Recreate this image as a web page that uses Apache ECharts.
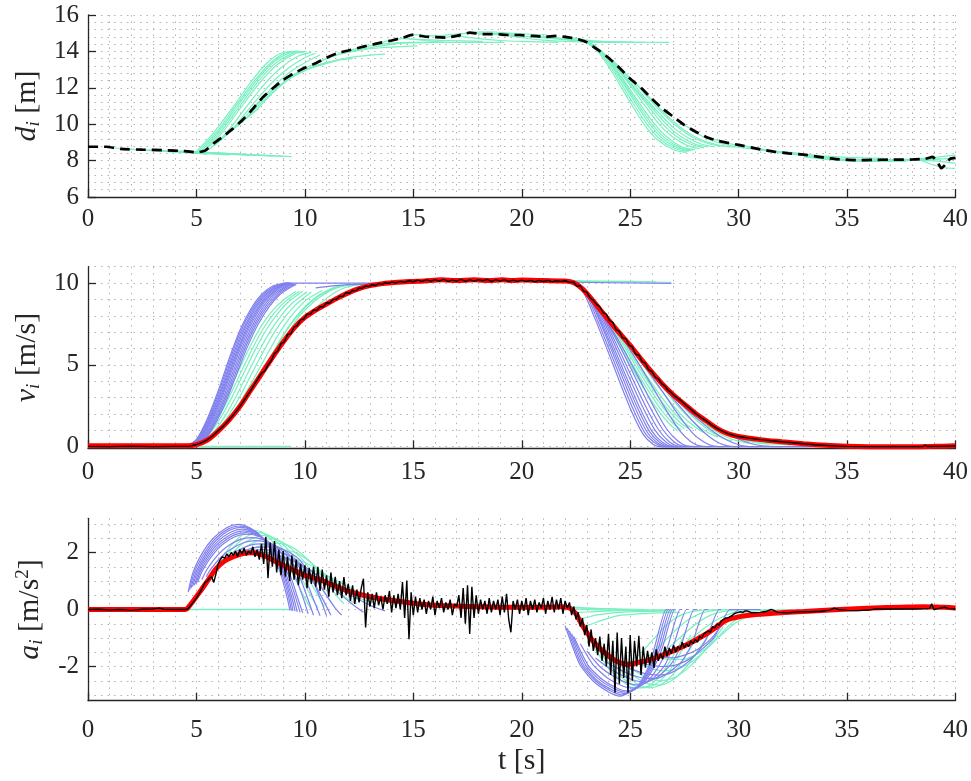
<!DOCTYPE html>
<html><head><meta charset="utf-8">
<script src="https://cdn.jsdelivr.net/npm/echarts@6/dist/echarts.min.js"></script>
<style>html,body{margin:0;padding:0;background:#fff}#c{width:971px;height:781px}</style>
</head><body><div id="c"></div>
<script>
// ---------------- tick labels ----------------
const xTicks = [0,5,10,15,20,25,30,35,40];
const dTicks = [6,8,10,12,14,16];
const vTicks = [0,5,10];
const aTicks = [-2,0,2];

// ---------------- plot 1 : gap d_i ----------------
const dMeas = [[0,8.76],[0.85,8.76],[1.5,8.64],[2.5,8.6],[3.5,8.57],[4.5,8.52],[5.0,8.45],[5.4,8.55],[5.8,8.95],[6.2,9.3],[6.7,9.77],[7.1,10.2],[7.5,10.7],[8.0,11.4],[8.5,11.95],[9.0,12.43],[9.5,12.8],[10.0,13.1],[10.5,13.35],[11.0,13.65],[11.5,13.9],[12.0,14.05],[12.5,14.2],[13.0,14.35],[13.5,14.48],[14.0,14.6],[14.5,14.75],[15.0,14.92],[15.5,14.82],[16.0,14.78],[16.5,14.76],[17.0,14.85],[17.6,15.03],[18.2,14.95],[18.8,14.95],[19.4,14.9],[19.9,14.9],[20.5,14.85],[21.1,14.8],[21.6,14.85],[22.0,14.8],[22.5,14.7],[23.0,14.5],[23.5,14.1],[24.0,13.65],[24.5,13.1],[25.0,12.5],[25.5,12.0],[26.0,11.4],[26.5,10.85],[27.0,10.4],[27.5,9.95],[28.0,9.6],[28.5,9.3],[29.0,9.1],[30.0,8.86],[31.0,8.62],[31.6,8.49],[32.3,8.4],[33.1,8.31],[34.0,8.15],[34.65,8.07],[35.5,8.02],[36.2,8.04],[37.0,8.05],[38.0,8.06],[38.6,8.1],[38.95,8.2],[39.15,7.95],[39.35,7.58],[39.55,7.8],[39.75,8.1],[40,8.15]];
const dFanFlat = [
 [[0.8,8.72],[5.5,8.36]],[[1.8,8.63],[6.5,8.32]],[[2.8,8.59],[7.5,8.28]],[[3.8,8.55],[8.5,8.25]],[[4.3,8.52],[9.0,8.23]],[[4.7,8.5],[9.4,8.22]]];
const dFanRise = [
 [[5.0,8.5],[5.77,9.5],[6.7,10.96],[7.47,12.25],[8.24,13.35],[9.0,13.94],[9.7,14.0]],
 [[5.1,8.5],[5.9,9.53],[6.8,10.98],[7.6,12.28],[8.4,13.35],[9.15,13.93],[9.8,14.0]],
 [[5.2,8.5],[6.0,9.55],[6.9,11.0],[7.7,12.3],[8.5,13.35],[9.3,13.92],[9.9,14.0]],
 [[5.3,8.52],[6.1,9.55],[7.0,11.0],[7.8,12.28],[8.6,13.3],[9.4,13.88],[10.0,14.0]],
 [[5.4,8.55],[6.2,9.55],[7.1,11.0],[7.9,12.25],[8.7,13.25],[9.5,13.85],[10.1,13.98]],
 [[5.6,8.62],[6.4,9.55],[7.3,10.95],[8.1,12.15],[8.9,13.1],[9.7,13.75],[10.3,13.95]],
 [[5.8,8.8],[6.6,9.65],[7.5,10.95],[8.3,12.05],[9.1,12.95],[9.9,13.6],[10.5,13.9]],
 [[6.0,9.05],[6.8,9.85],[7.7,11.0],[8.5,12.0],[9.3,12.85],[10.1,13.45],[10.7,13.8]],
 [[6.3,9.4],[7.1,10.1],[8.0,11.2],[8.8,12.05],[9.6,12.8],[10.4,13.3],[11.0,13.6]],
 [[6.8,9.9],[7.6,10.6],[8.5,11.7],[9.3,12.5],[10.1,13.0],[10.9,13.3],[11.5,13.5]]];
const dFanCruise = [
 [[7.5,10.7],[8.5,11.85],[9.5,12.65],[10.5,13.2],[11.5,13.5],[12.2,13.6]],
 [[9.0,12.43],[10,13.0],[11,13.4],[12,13.65],[13.0,13.8],[13.7,13.85]],
 [[10.5,13.35],[11.5,13.8],[12.5,14.05],[13.5,14.2],[15.2,14.3]],
 [[11.5,13.9],[12.5,14.1],[13.5,14.3],[14.5,14.45],[16.2,14.5]],
 [[12,14.05],[13,14.3],[14,14.45],[15,14.5],[16.7,14.5]],
 [[13.5,14.48],[14.5,14.7],[15.5,14.65],[16.5,14.6],[18.2,14.55]],
 [[14.5,14.75],[15.5,14.6],[16.5,14.5],[17.5,14.5],[19.2,14.5]],
 [[15,14.92],[16,14.85],[17,14.95],[18,15.0],[19.7,14.95]],
 [[16.5,14.76],[17.5,15.02],[18.5,15.08],[19.5,15.0],[21.2,14.9]],
 [[17,14.85],[18,14.7],[19,14.6],[20,14.55],[21.7,14.5]],
 [[18,14.95],[19,14.92],[20,14.85],[21,14.75],[22.7,14.6]],
 [[19,14.92],[20,14.75],[21,14.62],[22,14.55],[23.7,14.5]],
 [[19.5,14.9],[20.5,14.8],[21.5,14.75],[22.5,14.6],[24.2,14.5]],
 [[20.5,14.85],[21.5,14.7],[22.5,14.6],[25.2,14.5]],
 [[21,14.8],[22,14.7],[23,14.55],[24,14.5],[25.7,14.5]],
 [[22.1,14.78],[23,14.62],[24,14.53],[26.8,14.5]]];
const dFanBrake = [
 [[22.9,14.55],[23.5,14.0],[24.2,12.8],[25.0,11.2],[25.7,9.9],[26.3,9.1],[27.0,8.6],[27.6,8.45]],
 [[23.0,14.52],[23.6,13.95],[24.3,12.78],[25.1,11.22],[25.8,9.95],[26.4,9.15],[27.1,8.65],[27.7,8.5]],
 [[23.1,14.5],[23.7,13.9],[24.4,12.75],[25.2,11.25],[25.9,10.0],[26.5,9.2],[27.2,8.7],[27.8,8.55]],
 [[23.2,14.45],[23.8,13.82],[24.5,12.68],[25.3,11.22],[26.0,10.02],[26.6,9.25],[27.3,8.72],[27.9,8.57]],
 [[23.3,14.4],[23.9,13.75],[24.6,12.6],[25.4,11.2],[26.1,10.05],[26.7,9.3],[27.4,8.75],[28.0,8.6]],
 [[23.5,14.15],[24.1,13.5],[24.8,12.45],[25.6,11.15],[26.3,10.05],[26.9,9.35],[27.6,8.85],[28.2,8.65]],
 [[23.7,13.95],[24.3,13.25],[25.0,12.25],[25.8,11.05],[26.5,10.0],[27.1,9.35],[27.8,8.9],[28.4,8.7]],
 [[23.9,13.8],[24.5,13.05],[25.2,12.0],[26.0,10.9],[26.7,9.95],[27.3,9.35],[28.0,8.9],[28.6,8.75]],
 [[24.2,13.5],[24.8,12.75],[25.5,11.7],[26.3,10.65],[27.0,9.8],[27.6,9.3],[28.3,8.9],[28.9,8.75]],
 [[24.6,13.0],[25.2,12.3],[25.9,11.35],[26.7,10.35],[27.4,9.65],[28.0,9.2],[28.7,8.9],[29.3,8.8]],
 [[25.2,12.3],[25.8,11.6],[26.5,10.7],[27.3,9.85],[28.0,9.3],[28.6,9.0],[29.3,8.8],[29.9,8.75]]];
const dFanTail = [
 [[27.3,10.15],[28.3,9.35],[29.3,8.9],[30.5,8.65],[32.0,8.45]],
 [[28.5,9.3],[29.5,8.95],[30.5,8.75],[31.5,8.55],[33.2,8.35]],
 [[30,8.86],[31,8.6],[32,8.42],[33,8.28],[34.7,8.1]],
 [[31.6,8.49],[32.6,8.35],[33.6,8.2],[34.6,8.08],[36.3,8.0]],
 [[32,8.5],[34,8.25],[36.7,8.12]],
 [[33,8.2],[35,7.98],[37.7,7.95]],
 [[33.1,8.31],[34.1,8.15],[35.1,8.05],[36.1,8.02],[37.8,8.0]],
 [[34.6,8.07],[35.6,8.02],[36.6,8.03],[37.6,8.05],[39.3,8.08]],
 [[35.3,8.03],[38,8.08],[40,8.3]],
 [[36,8.02],[38.5,8.05],[40,8.12]],
 [[37,8.05],[39,7.98],[40,7.85]],
 [[38.3,8.06],[39.4,7.62],[40,7.58]]];

// ---------------- plot 2 : speed v_i ----------------
const vRef = [[0,0.05],[4.6,0.05],[5.0,0.12],[5.5,0.4],[6.0,0.95],[6.5,1.62],[7.0,2.45],[7.5,3.45],[8.0,4.45],[8.5,5.45],[9.0,6.4],[9.5,7.25],[10.0,7.9],[10.5,8.35],[11.0,8.72],[11.5,9.08],[12.0,9.4],[12.5,9.66],[13.0,9.84],[13.5,9.95],[14.0,10.02],[14.5,10.07],[15.0,10.1],[15.5,10.13],[16.3,10.2],[17.0,10.15],[17.8,10.2],[18.5,10.15],[19.1,10.2],[19.6,10.15],[20.0,10.18],[21.0,10.15],[22.0,10.12],[22.4,10.02],[22.8,9.65],[23.2,9.05],[23.6,8.4],[24.0,7.75],[24.5,6.95],[25.0,6.2],[25.5,5.35],[26.0,4.55],[26.5,3.8],[27.0,3.15],[27.5,2.6],[28.0,2.05],[28.5,1.58],[29.0,1.12],[29.5,0.8],[30.0,0.62],[31.0,0.43],[32.0,0.3],[33.0,0.18],[34.0,0.08],[35.0,0.02],[36.0,0.0],[38.0,0.0],[39.0,0.02],[40.0,0.05]];
const vMeas = [[0,0.02],[1,0.0],[2,0.03],[3,0.0],[4,0.02],[4.6,0.02],[4.8,0.06],[5.0,0.13],[5.25,0.25],[5.5,0.42],[5.75,0.65],[6.0,0.97],[6.25,1.27],[6.5,1.63],[6.75,2.02],[7.0,2.45],[7.25,2.93],[7.5,3.43],[7.75,3.98],[8.0,4.5],[8.15,4.62],[8.3,5.0],[8.45,5.25],[8.6,5.7],[8.75,5.85],[8.9,6.3],[9.05,6.4],[9.2,6.85],[9.35,6.9],[9.5,7.3],[9.65,7.4],[9.8,7.75],[9.95,7.8],[10.1,8.1],[10.25,8.1],[10.4,8.35],[10.55,8.32],[10.7,8.55],[10.85,8.55],[11.0,8.8],[11.15,8.78],[11.3,9.0],[11.45,9.0],[11.6,9.2],[11.75,9.18],[11.9,9.42],[12.05,9.38],[12.2,9.55],[12.35,9.52],[12.5,9.7],[12.65,9.68],[12.8,9.82],[12.95,9.78],[13.1,9.9],[13.25,9.85],[13.4,9.97],[13.55,9.92],[13.7,10.02],[13.85,9.98],[14.0,10.06],[14.2,10.02],[14.4,10.1],[14.6,10.05],[14.8,10.14],[15.0,10.08],[15.2,10.18],[15.4,10.1],[15.6,10.2],[15.8,10.12],[16.0,10.2],[16.2,10.12],[16.4,10.22],[16.6,10.1],[16.8,10.18],[17.0,10.12],[17.2,10.22],[17.4,10.1],[17.6,10.2],[17.8,10.12],[18.0,10.2],[18.2,10.14],[18.4,10.22],[18.6,10.1],[18.8,10.2],[19.0,10.12],[19.2,10.2],[19.4,10.1],[19.6,10.18],[19.8,10.1],[20.0,10.18],[20.2,10.1],[20.4,10.16],[20.6,10.08],[20.8,10.16],[21.0,10.1],[21.2,10.16],[21.4,10.08],[21.6,10.14],[21.8,10.1],[22.0,10.14],[22.2,10.05],[22.4,10.05],[22.55,9.8],[22.7,9.85],[22.85,9.5],[23.0,9.45],[23.15,9.1],[23.3,8.95],[23.45,8.7],[23.6,8.55],[23.75,8.2],[23.9,8.1],[24.05,7.7],[24.2,7.6],[24.35,7.15],[24.5,7.05],[24.65,6.65],[24.8,6.6],[24.95,6.2],[25.1,6.1],[25.25,5.65],[25.4,5.6],[25.55,5.2],[25.7,5.1],[25.85,4.7],[26.0,4.6],[26.15,4.25],[26.3,4.15],[26.45,3.85],[26.6,3.7],[26.75,3.45],[26.9,3.3],[27.05,3.1],[27.2,2.95],[27.4,2.75],[27.6,2.5],[27.8,2.28],[28.0,2.05],[28.25,1.8],[28.5,1.58],[28.75,1.33],[29.0,1.12],[29.25,0.95],[29.5,0.8],[29.75,0.7],[30.0,0.62],[30.5,0.52],[31.0,0.43],[31.5,0.36],[32.0,0.3],[32.5,0.24],[33.0,0.18],[33.5,0.12],[34.0,0.08],[34.5,0.04],[35.0,0.02],[36.0,0.0],[37.0,0.0],[38.0,0.0],[38.5,0.01],[38.6,0.1],[38.7,0.01],[39.0,0.02],[40.0,0.04]];
const vGreenFlat = [[[0.5,0.01],[9.3,0.01]]];
const vBlueRise = [
 [[4.55,0.05],[5.0,0.45],[5.5,1.7],[6.0,3.4],[6.5,5.35],[7.0,7.1],[7.5,8.4],[8.0,9.3],[8.5,9.8],[9.0,9.98],[9.25,10.0]],
 [[4.57,0.05],[5.02,0.44],[5.52,1.65],[6.02,3.3],[6.52,5.22],[7.02,6.98],[7.52,8.3],[8.02,9.22],[8.52,9.75],[9.02,9.96],[9.27,10.0]],
 [[4.6,0.05],[5.05,0.42],[5.55,1.6],[6.05,3.2],[6.55,5.1],[7.05,6.85],[7.55,8.2],[8.05,9.15],[8.55,9.7],[9.05,9.95],[9.3,10.0]],
 [[4.62,0.05],[5.07,0.41],[5.57,1.55],[6.07,3.12],[6.57,5.0],[7.07,6.72],[7.57,8.1],[8.07,9.08],[8.57,9.65],[9.07,9.93],[9.32,10.0]],
 [[4.65,0.05],[5.1,0.4],[5.6,1.5],[6.1,3.05],[6.6,4.9],[7.1,6.6],[7.6,8.0],[8.1,9.0],[8.6,9.6],[9.1,9.92],[9.35,9.99]],
 [[4.67,0.05],[5.12,0.39],[5.62,1.46],[6.12,2.97],[6.62,4.8],[7.12,6.5],[7.62,7.9],[8.12,8.92],[8.62,9.55],[9.12,9.9],[9.37,9.98]],
 [[4.7,0.05],[5.15,0.38],[5.65,1.42],[6.15,2.9],[6.65,4.7],[7.15,6.4],[7.65,7.8],[8.15,8.85],[8.65,9.5],[9.15,9.88],[9.4,9.98]],
 [[4.75,0.05],[5.2,0.38],[5.7,1.4],[6.2,2.85],[6.7,4.62],[7.2,6.32],[7.7,7.72],[8.2,8.78],[8.7,9.45],[9.2,9.85],[9.45,9.97]],
 [[4.8,0.06],[5.25,0.38],[5.75,1.38],[6.25,2.8],[6.75,4.55],[7.25,6.25],[7.75,7.65],[8.25,8.7],[8.75,9.4],[9.25,9.82],[9.5,9.96]],
 [[4.85,0.07],[5.3,0.39],[5.8,1.36],[6.3,2.76],[6.8,4.48],[7.3,6.18],[7.8,7.58],[8.3,8.62],[8.8,9.35],[9.3,9.78],[9.55,9.94]],
 [[4.9,0.08],[5.35,0.4],[5.85,1.35],[6.35,2.72],[6.85,4.42],[7.35,6.1],[7.85,7.5],[8.35,8.55],[8.85,9.3],[9.35,9.75],[9.6,9.92]]];
const vBlueCruise = [
 [[9.0,10.0],[14.3,9.99]],
 [[10.5,9.7],[12,9.9],[15.2,10.0]],
 [[22.2,10.05],[26.9,9.98]]];
const vGreenRise = [
 [[4.9,0.1],[5.5,0.9],[6.0,2.0],[6.5,3.35],[7.0,4.8],[7.5,6.2],[8.0,7.4],[8.5,8.3],[9.0,8.95],[9.6,9.5]],
 [[5.05,0.17],[5.6,0.92],[6.1,1.98],[6.6,3.28],[7.1,4.68],[7.6,6.05],[8.1,7.25],[8.6,8.18],[9.1,8.88],[9.75,9.5]],
 [[5.2,0.25],[5.7,0.95],[6.2,1.95],[6.7,3.2],[7.2,4.55],[7.7,5.9],[8.2,7.1],[8.7,8.05],[9.2,8.8],[9.9,9.5]],
 [[5.4,0.37],[5.9,1.07],[6.4,2.05],[6.9,3.25],[7.4,4.58],[7.9,5.88],[8.4,7.05],[8.9,8.0],[9.4,8.75],[10.1,9.47]],
 [[5.6,0.5],[6.1,1.2],[6.6,2.15],[7.1,3.3],[7.6,4.6],[8.1,5.85],[8.6,7.0],[9.1,7.95],[9.6,8.7],[10.3,9.45]],
 [[6.1,1.1],[6.6,1.9],[7.1,2.9],[7.6,4.05],[8.1,5.25],[8.6,6.45],[9.1,7.5],[9.6,8.35],[10.1,9.0],[10.8,9.55]],
 [[6.7,1.9],[7.2,2.8],[7.7,3.85],[8.2,5.0],[8.7,6.15],[9.2,7.2],[9.7,8.1],[10.2,8.8],[10.7,9.3],[11.4,9.7]],
 [[7.4,3.2],[7.9,4.25],[8.4,5.4],[8.9,6.6],[9.4,7.6],[9.9,8.4],[10.4,9.0],[10.9,9.45],[11.4,9.75],[12.1,9.9]],
 [[8.2,4.85],[8.7,6.1],[9.2,7.2],[9.7,8.05],[10.2,8.75],[10.7,9.25],[11.2,9.6],[11.7,9.82],[12.9,9.95]],
 [[9.2,6.85],[9.7,7.9],[10.2,8.6],[10.7,9.15],[11.2,9.55],[11.7,9.8],[12.2,9.92],[13.9,10.0]],
 [[10.3,8.15],[10.8,8.85],[11.3,9.35],[11.8,9.7],[12.5,9.9],[13.2,10.0],[15.0,10.05]],
 [[11.5,9.05],[12.0,9.5],[12.5,9.8],[13.0,9.95],[14.0,10.05],[16.2,10.1]]];
const vGreenCruise = [
 [[12.5,9.66],[13.5,9.95],[14.5,10.05],[17.2,10.12]],
 [[14,10.02],[15,10.12],[16,10.18],[18.7,10.2]],
 [[16,10.15],[17,10.2],[20.7,10.2]],
 [[18,10.15],[19,10.18],[22.7,10.15]],
 [[20.5,10.12],[25.2,10.1]],
 [[21.5,10.12],[26.2,10.08]],
 [[22.2,10.12],[26.9,10.05]]];
const vBlueBrake = [
 [[22.4,10.05],[22.8,9.55],[23.4,7.75],[24.2,5.05],[25.0,2.35],[25.6,0.75],[26.05,0.15],[26.4,0.0],[27.1,0.0]],
 [[22.5,10.02],[22.9,9.5],[23.5,7.7],[24.3,5.05],[25.1,2.4],[25.7,0.8],[26.2,0.18],[26.55,0.0],[27.2,0.0]],
 [[22.6,10.0],[23.0,9.4],[23.6,7.65],[24.4,5.05],[25.2,2.45],[25.8,0.85],[26.3,0.2],[26.7,0.0],[27.3,0.0]],
 [[22.7,9.85],[23.1,9.2],[23.7,7.5],[24.5,5.0],[25.3,2.48],[25.9,0.9],[26.4,0.22],[26.8,0.01],[27.4,0.0]],
 [[22.8,9.7],[23.2,9.0],[23.8,7.4],[24.6,4.95],[25.4,2.5],[26.0,0.95],[26.5,0.25],[26.9,0.02],[27.5,0.0]],
 [[22.95,9.45],[23.35,8.75],[23.95,7.2],[24.75,4.85],[25.55,2.5],[26.15,1.0],[26.65,0.28],[27.05,0.02],[27.65,0.0]],
 [[23.1,9.2],[23.5,8.5],[24.1,7.0],[24.9,4.75],[25.7,2.5],[26.3,1.05],[26.8,0.3],[27.2,0.03],[27.8,0.0]],
 [[23.3,8.85],[23.7,8.1],[24.3,6.7],[25.1,4.6],[25.9,2.45],[26.5,1.05],[27.0,0.32],[27.4,0.04],[28.0,0.0]],
 [[23.5,8.5],[23.9,7.7],[24.5,6.4],[25.3,4.45],[26.1,2.4],[26.7,1.05],[27.2,0.35],[27.6,0.05],[28.2,0.0]],
 [[24.0,7.75],[24.5,6.9],[25.1,5.7],[25.9,3.95],[26.7,2.15],[27.3,0.95],[27.8,0.3],[28.2,0.05],[28.7,0.0]],
 [[24.6,6.8],[25.1,5.95],[25.7,4.85],[26.5,3.35],[27.3,1.8],[27.9,0.8],[28.4,0.28],[28.8,0.05],[29.3,0.0]],
 [[25.3,5.65],[25.8,4.85],[26.4,3.85],[27.2,2.6],[28.0,1.4],[28.6,0.65],[29.1,0.22],[29.5,0.05],[30.0,0.0]],
 [[26.2,4.25],[26.7,3.45],[27.3,2.65],[28.1,1.7],[28.9,0.85],[29.5,0.38],[30.0,0.12],[30.4,0.02],[30.9,0.0]],
 [[27.3,2.8],[27.8,2.25],[28.4,1.65],[29.2,1.0],[30.0,0.45],[30.6,0.18],[31.1,0.05],[32.0,0.0]],
 [[26.4,0.0],[35.0,0.0]]];
const vGreenBrake = [
 [[22.5,10.0],[23.0,9.5],[23.6,8.3],[24.3,6.7],[25.0,5.0],[25.7,3.4],[26.3,2.2],[26.8,1.4],[27.2,0.95]],
 [[22.65,9.85],[23.15,9.28],[23.75,8.1],[24.45,6.55],[25.15,4.92],[25.85,3.38],[26.45,2.22],[26.95,1.45],[27.35,1.02]],
 [[22.8,9.7],[23.3,9.05],[23.9,7.9],[24.6,6.4],[25.3,4.85],[26.0,3.35],[26.6,2.25],[27.1,1.5],[27.5,1.1]],
 [[23.0,9.38],[23.5,8.7],[24.1,7.55],[24.8,6.12],[25.5,4.65],[26.2,3.22],[26.8,2.18],[27.3,1.48],[27.7,1.1]],
 [[23.2,9.05],[23.7,8.3],[24.3,7.2],[25.0,5.85],[25.7,4.45],[26.4,3.1],[27.0,2.1],[27.5,1.45],[27.9,1.1]],
 [[23.7,8.22],[24.2,7.5],[24.8,6.45],[25.5,5.15],[26.2,3.85],[26.9,2.65],[27.5,1.75],[28.0,1.2],[28.4,0.85]],
 [[24.3,7.25],[24.8,6.5],[25.4,5.5],[26.1,4.3],[26.8,3.1],[27.5,2.05],[28.1,1.3],[28.6,0.85],[29.0,0.6]],
 [[25.0,6.2],[25.5,5.45],[26.1,4.5],[26.8,3.4],[27.5,2.35],[28.2,1.45],[28.8,0.85],[29.3,0.5],[29.7,0.35]],
 [[25.8,4.88],[26.3,4.25],[26.9,3.4],[27.6,2.45],[28.3,1.55],[29.0,0.9],[29.6,0.5],[30.1,0.3],[30.5,0.2]],
 [[26.7,3.55],[27.2,2.95],[27.8,2.25],[28.5,1.5],[29.2,0.9],[29.9,0.5],[30.5,0.3],[31.0,0.2],[31.4,0.15]],
 [[27.7,2.38],[28.2,1.8],[28.8,1.3],[29.5,0.8],[30.2,0.45],[30.9,0.27],[31.5,0.17],[32.4,0.1]],
 [[28.8,1.3],[29.3,0.95],[29.9,0.65],[30.6,0.42],[31.3,0.27],[32.0,0.18],[33.5,0.1]],
 [[30.0,0.62],[31,0.4],[32,0.25],[33,0.15],[34.7,0.05]]];

// ---------------- plot 3 : acceleration a_i ----------------
const aRef = [[0,0],[4.5,0],[4.65,0.1],[5.15,0.61],[5.6,1.1],[5.92,1.44],[6.3,1.7],[6.7,1.85],[7.1,1.95],[7.47,1.99],[7.9,1.95],[8.24,1.85],[8.6,1.7],[9.0,1.55],[9.4,1.4],[9.77,1.26],[10.2,1.15],[10.54,1.08],[11.15,0.9],[11.8,0.7],[12.69,0.5],[13.5,0.38],[14.22,0.3],[15,0.22],[16,0.15],[17,0.12],[18,0.1],[19,0.08],[20,0.08],[21,0.08],[21.8,0.1],[22.2,0.05],[22.5,-0.15],[22.67,-0.39],[23.0,-0.8],[23.4,-1.21],[23.8,-1.5],[24.2,-1.74],[24.6,-1.88],[24.97,-1.92],[25.4,-1.85],[25.74,-1.8],[26.3,-1.65],[26.98,-1.45],[27.7,-1.2],[28.5,-0.86],[29.0,-0.6],[29.4,-0.39],[30.06,-0.25],[30.8,-0.18],[31.6,-0.13],[33,-0.07],[34.65,0],[36.2,0.05],[37.5,0.08],[38.5,0.1],[39.5,0.08],[40,0.05]];
const aMeas = [[0,0.0],[0.5,0.01],[1.0,-0.02],[1.5,0.0],[2.0,-0.03],[2.5,0.01],[3.0,0.02],[3.3,0.05],[3.5,0.01],[4.0,0.0],[4.5,0.0],[4.6,0.02],[4.8,0.2],[5.0,0.4],[5.2,0.65],[5.4,0.95],
[5.5,1.0],[5.6,1.1],[5.7,1.15],[5.8,0.95],[5.9,1.25],[6.0,1.6],[6.1,1.75],[6.2,1.85],[6.3,1.8],[6.4,1.95],[6.5,1.85],
[6.6,2.0],[6.7,1.9],[6.8,2.05],[6.9,1.85],[7.0,2.1],[7.1,1.95],[7.2,2.15],[7.3,1.9],[7.4,2.05],[7.5,1.95],
[7.6,2.2],[7.7,1.85],[7.8,2.1],[7.9,1.75],[8.0,2.3],[8.1,1.6],[8.2,2.55],[8.3,1.1],[8.4,2.35],[8.5,1.5],
[8.6,2.4],[8.7,1.3],[8.8,2.1],[8.9,1.2],[9.0,2.05],[9.1,1.15],[9.2,1.85],[9.3,1.0],[9.4,1.9],[9.5,1.05],
[9.6,1.75],[9.7,0.85],[9.8,1.6],[9.9,1.05],[10.0,1.55],[10.1,0.75],[10.2,1.45],[10.3,0.9],[10.4,1.5],[10.5,0.8],
[10.6,1.5],[10.7,0.65],[10.8,1.4],[10.9,0.7],[11.0,1.2],[11.1,0.45],[11.2,1.3],[11.3,0.6],[11.4,1.15],[11.5,0.5],
[11.6,1.0],[11.7,0.4],[11.8,1.14],[11.9,0.5],[12.0,0.9],[12.1,0.3],[12.2,0.85],[12.3,0.2],[12.4,0.7],[12.5,0.25],
[12.6,0.75],[12.7,1.08],[12.8,-0.63],[12.9,0.6],[13.0,0.1],[13.1,0.55],[13.2,0.05],[13.3,0.6],[13.4,0.15],[13.5,0.45],
[13.6,0.0],[13.7,0.5],[13.8,0.2],[13.9,0.65],[14.0,-0.1],[14.1,0.5],[14.2,0.05],[14.3,0.55],[14.4,0.0],[14.5,0.96],
[14.6,-0.3],[14.7,1.02],[14.8,-1.04],[14.9,0.6],[15.0,-0.2],[15.1,0.45],[15.2,-0.1],[15.3,0.4],[15.4,0.0],[15.5,0.35],
[15.6,-0.15],[15.7,0.3],[15.8,0.0],[15.9,0.45],[16.0,-0.2],[16.1,0.3],[16.2,0.05],[16.3,0.4],[16.4,-0.1],[16.5,0.25],
[16.6,0.0],[16.7,0.35],[16.8,-0.2],[16.9,0.2],[17.0,0.1],[17.1,0.5],[17.2,-0.3],[17.3,0.75],[17.4,-0.5],[17.5,0.85],
[17.6,-0.86],[17.7,0.8],[17.8,-0.3],[17.9,0.5],[18.0,-0.15],[18.1,0.35],[18.2,0.0],[18.3,0.3],[18.4,-0.15],[18.5,0.4],
[18.6,-0.1],[18.7,0.3],[18.8,0.0],[18.9,0.35],[19.0,-0.2],[19.1,0.45],[19.2,-0.1],[19.3,0.55],[19.4,-0.35],[19.5,-0.8],
[19.6,0.3],[19.7,0.0],[19.8,0.35],[19.9,-0.15],[20.0,0.3],[20.1,-0.05],[20.2,0.4],[20.3,-0.2],[20.4,0.3],[20.5,0.0],
[20.6,0.35],[20.7,-0.1],[20.8,0.25],[20.9,0.05],[21.0,0.4],[21.1,-0.15],[21.2,0.3],[21.3,0.0],[21.4,0.44],[21.5,-0.1],
[21.6,0.35],[21.7,0.0],[21.8,0.4],[21.9,-0.15],[22.0,0.3],[22.1,0.05],[22.2,0.25],[22.3,-0.2],[22.4,0.1],[22.5,-0.35],
[22.6,-0.1],[22.7,-0.6],[22.8,-0.3],[22.9,-0.9],[23.0,-0.55],[23.1,-1.3],[23.2,-0.7],[23.3,-1.45],[23.4,-1.0],[23.5,-1.6],
[23.6,-0.95],[23.7,-1.8],[23.8,-1.2],[23.9,-2.0],[24.0,-0.85],[24.1,-2.3],[24.2,-1.1],[24.3,-2.92],[24.4,-0.81],[24.5,-2.6],
[24.6,-1.0],[24.7,-2.4],[24.8,-1.3],[24.9,-2.92],[25.0,-0.9],[25.1,-2.5],[25.2,-1.1],[25.3,-2.0],[25.4,-0.92],[25.5,-2.3],
[25.6,-1.3],[25.7,-2.04],[25.8,-1.45],[25.9,-1.95],[26.0,-1.5],[26.1,-2.05],[26.2,-1.4],[26.3,-1.8],[26.4,-1.55],[26.5,-1.75],
[26.6,-1.3],[26.7,-1.65],[26.8,-1.35],[26.9,-1.55],[27.0,-1.25],[27.1,-1.5],[27.2,-1.3],[27.3,-1.4],[27.4,-1.15],[27.5,-1.35],
[27.6,-1.2],[27.7,-1.3],[27.8,-1.1],[27.9,-1.2],[28.0,-1.05],[28.1,-1.15],[28.2,-0.95],[28.3,-1.0],[28.4,-0.85],[28.5,-0.8],
[28.6,-0.75],[28.7,-0.8],[28.8,-0.6],[28.9,-0.65],[29.0,-0.5],[29.1,-0.55],[29.2,-0.4],[29.3,-0.35],[29.4,-0.3],[29.5,-0.3],
[29.6,-0.25],[29.7,-0.22],[29.8,-0.15],[29.9,-0.12],[30.0,-0.1],[30.1,-0.08],[30.2,-0.1],[30.3,-0.05],[30.4,-0.05],[30.5,-0.08],
[30.6,-0.12],[31.0,-0.1],[31.3,-0.06],[31.5,0.0],[31.6,-0.02],[31.8,-0.1],[32.3,-0.12],[32.8,-0.08],[33.3,-0.08],[33.8,-0.06],[34.2,-0.02],[34.4,0.05],[34.6,0.0],[35.0,-0.03],[35.5,-0.04],[36.0,-0.02],[36.3,0.02],[36.8,0.02],[37.5,0.02],[38.2,0.02],[38.8,0.03],[38.9,0.2],[39.0,0.0],[39.3,0.05],[39.5,0.08],[39.7,0.03],[40,0.02]];
const aGreenFlat = [[[0.5,0.0],[9.3,0.0]]];
const aBlueRise = [
 [[4.62,0.61],[4.85,1.32],[5.31,2.03],[5.78,2.5],[6.39,2.87],[6.93,2.99],[7.46,2.87],[7.92,2.61],[8.39,2.14],[8.85,1.32],[9.16,0.49],[9.31,-0.03]],
 [[4.68,0.68],[4.92,1.33],[5.38,2.0],[5.84,2.46],[6.45,2.82],[6.99,2.93],[7.53,2.82],[7.98,2.56],[8.45,2.1],[8.91,1.32],[9.23,0.5],[9.38,-0.04]],
 [[4.75,0.75],[5.0,1.35],[5.45,1.98],[5.9,2.42],[6.5,2.77],[7.05,2.88],[7.6,2.77],[8.05,2.52],[8.5,2.08],[8.97,1.32],[9.3,0.5],[9.45,-0.05]],
 [[4.82,0.8],[5.07,1.36],[5.52,1.96],[5.97,2.38],[6.57,2.71],[7.12,2.82],[7.67,2.71],[8.12,2.47],[8.57,2.04],[9.03,1.31],[9.37,0.5],[9.55,-0.06]],
 [[4.9,0.85],[5.15,1.38],[5.6,1.95],[6.05,2.35],[6.65,2.66],[7.2,2.76],[7.75,2.66],[8.2,2.42],[8.65,2.0],[9.1,1.3],[9.45,0.5],[9.65,-0.08]],
 [[4.97,0.9],[5.22,1.39],[5.67,1.93],[6.12,2.31],[6.72,2.61],[7.27,2.7],[7.82,2.61],[8.27,2.38],[8.72,1.97],[9.2,1.28],[9.55,0.48],[9.78,-0.1]],
 [[5.05,0.95],[5.3,1.4],[5.75,1.92],[6.2,2.28],[6.8,2.56],[7.35,2.64],[7.9,2.56],[8.35,2.34],[8.8,1.95],[9.3,1.25],[9.65,0.45],[9.9,-0.12]],
 [[5.25,1.05],[5.5,1.42],[5.95,1.88],[6.4,2.2],[7.0,2.45],[7.55,2.52],[8.1,2.45],[8.55,2.25],[9.0,1.9],[9.5,1.25],[9.9,0.45],[10.15,-0.15]],
 [[5.45,1.15],[5.7,1.45],[6.15,1.85],[6.6,2.12],[7.2,2.35],[7.75,2.42],[8.3,2.35],[8.75,2.18],[9.2,1.85],[9.7,1.25],[10.1,0.45],[10.4,-0.2]],
 [[5.7,1.25],[6.0,1.55],[6.4,1.85],[6.85,2.05],[7.45,2.25],[8.0,2.3],[8.55,2.25],[9.0,2.1],[9.45,1.8],[9.95,1.2],[10.35,0.45],[10.7,-0.22]],
 [[6.0,1.5],[6.3,1.7],[6.7,1.9],[7.15,2.05],[7.75,2.18],[8.3,2.2],[8.85,2.15],[9.3,2.0],[9.75,1.75],[10.25,1.2],[10.7,0.4],[11.0,-0.22]],
 [[6.5,1.8],[7.0,1.95],[7.6,2.08],[8.2,2.1],[8.8,2.02],[9.3,1.88],[9.8,1.6],[10.3,1.1],[10.8,0.4],[11.2,-0.2]],
 [[7.0,1.95],[7.6,2.0],[8.2,2.0],[8.8,1.9],[9.4,1.72],[9.9,1.5],[10.4,1.15],[10.9,0.6],[11.4,0.05],[11.7,-0.2]],
 [[8.0,1.95],[9.0,1.85],[10.0,1.5],[11.0,0.95],[12.0,0.3],[12.7,-0.1]],
 [[9.0,1.55],[10.0,1.3],[11.0,0.95],[12.0,0.55],[13.0,0.15],[13.7,-0.05]]];
const aGreenRise = [
 [[5.6,1.1],[6.0,1.6],[6.5,2.15],[7.0,2.55],[7.5,2.78],[8.0,2.72],[8.5,2.4],[9.0,1.85],[9.5,1.15],[10.0,0.4],[10.3,0.0]],
 [[5.9,1.4],[6.3,1.8],[6.8,2.25],[7.3,2.55],[7.8,2.7],[8.3,2.62],[8.8,2.3],[9.3,1.8],[9.8,1.15],[10.3,0.45],[10.6,0.05]],
 [[6.2,1.65],[6.6,1.95],[7.1,2.3],[7.6,2.5],[8.1,2.6],[8.6,2.5],[9.1,2.2],[9.6,1.75],[10.1,1.15],[10.6,0.5],[10.9,0.1]],
 [[6.6,1.82],[7.0,2.05],[7.5,2.3],[8.0,2.45],[8.5,2.48],[9.0,2.35],[9.5,2.05],[10.0,1.65],[10.5,1.1],[11.0,0.5],[11.3,0.15]],
 [[7.1,1.95],[7.5,2.1],[8.0,2.25],[8.5,2.33],[9.0,2.3],[9.5,2.15],[10.0,1.85],[10.5,1.45],[11.0,0.95],[11.5,0.45],[11.8,0.2]],
 [[7.7,1.97],[8.2,2.05],[8.7,2.1],[9.2,2.08],[9.7,1.95],[10.2,1.7],[10.7,1.35],[11.2,0.95],[11.7,0.55],[12.1,0.3],[12.4,0.2]],
 [[8.5,1.7],[9.0,1.75],[9.5,1.75],[10.0,1.65],[10.5,1.45],[11.0,1.2],[11.5,0.9],[12.0,0.62],[12.5,0.4],[13.2,0.25]],
 [[9.5,1.38],[10.0,1.4],[10.5,1.35],[11.0,1.2],[11.5,1.0],[12.0,0.8],[12.5,0.6],[13.0,0.42],[13.5,0.3],[14.2,0.22]]];
const aGreenCruise = [
 [[11,0.9],[12,0.62],[13,0.42],[14,0.3],[15.7,0.2]],
 [[13,0.4],[14,0.3],[15,0.22],[17.7,0.12]],
 [[15,0.2],[16.5,0.14],[19.7,0.08]],
 [[17,0.12],[19,0.08],[21.7,0.08]],
 [[19.5,0.1],[24.2,-0.03]],
 [[21.0,0.08],[25.7,0.0]],
 [[22.0,0.12],[23.0,0.05],[24.5,0.0],[26.7,-0.02]],
 [[22.2,0.0],[22.6,-0.1],[23.2,-0.08],[24.5,-0.04],[26.9,-0.02]],
 [[22.4,-0.2],[22.8,-0.3],[23.4,-0.2],[24.5,-0.1],[27.1,-0.05]],
 [[22.6,-0.4],[23.0,-0.55],[23.6,-0.4],[24.6,-0.2],[27.3,-0.1]]];
const aBlueBrake = [
 [[22.0,-0.57],[22.67,-1.92],[23.29,-2.51],[24.06,-2.92],[24.52,-3.04],[25.29,-2.74],[25.9,-1.92],[26.1,-1.4],[26.65,0],[26.7,0]],
 [[22.1,-0.66],[22.76,-1.94],[23.4,-2.5],[24.15,-2.88],[24.61,-3.0],[25.37,-2.71],[25.95,-1.93],[26.2,-1.38],[26.75,0],[26.8,0]],
 [[22.2,-0.75],[22.85,-1.95],[23.5,-2.5],[24.25,-2.85],[24.7,-2.95],[25.45,-2.68],[26.0,-1.95],[26.3,-1.35],[26.85,0],[26.9,0]],
 [[22.3,-0.85],[22.95,-1.95],[23.6,-2.47],[24.35,-2.81],[24.8,-2.9],[25.52,-2.64],[26.07,-1.95],[26.4,-1.32],[26.95,0],[27.0,0]],
 [[22.4,-0.95],[23.05,-1.95],[23.7,-2.45],[24.45,-2.78],[24.9,-2.86],[25.6,-2.6],[26.15,-1.95],[26.5,-1.3],[27.05,0],[27.1,0]],
 [[22.7,-1.2],[23.3,-1.95],[23.95,-2.4],[24.7,-2.7],[25.15,-2.76],[25.8,-2.52],[26.35,-1.95],[26.75,-1.25],[27.3,0],[27.4,0]],
 [[23.0,-1.45],[23.6,-2.0],[24.25,-2.35],[24.95,-2.6],[25.4,-2.65],[26.0,-2.45],[26.6,-1.95],[27.0,-1.25],[27.6,0],[27.7,0]],
 [[23.4,-1.7],[24.0,-2.05],[24.6,-2.3],[25.25,-2.5],[25.7,-2.55],[26.3,-2.35],[26.9,-1.9],[27.35,-1.25],[27.95,0],[28.1,0]],
 [[23.9,-1.85],[24.5,-2.1],[25.1,-2.3],[25.7,-2.42],[26.2,-2.42],[26.8,-2.2],[27.4,-1.8],[27.85,-1.2],[28.45,0],[28.6,0]],
 [[24.5,-1.9],[25.1,-2.1],[25.7,-2.25],[26.3,-2.3],[26.8,-2.25],[27.4,-2.0],[28.0,-1.6],[28.5,-1.05],[29.1,0],[29.2,0]],
 [[25.3,-1.85],[25.9,-1.95],[26.5,-2.0],[27.1,-1.95],[27.7,-1.75],[28.3,-1.4],[28.9,-0.95],[29.6,0],[30.0,0]],
 [[26.3,-1.65],[26.9,-1.7],[27.5,-1.6],[28.1,-1.4],[28.7,-1.05],[29.3,-0.5],[30.06,0],[31.0,0]]];
const aGreenBrakeLow = [
 [[22.8,-0.5],[23.4,-1.4],[24.0,-2.05],[24.6,-2.5],[25.2,-2.75],[25.8,-2.7],[26.4,-2.3],[27.0,-1.6],[27.5,-0.9]],
 [[23.1,-0.85],[23.7,-1.6],[24.3,-2.15],[24.9,-2.55],[25.5,-2.75],[26.1,-2.65],[26.7,-2.25],[27.3,-1.55],[27.8,-0.9]],
 [[23.5,-1.2],[24.1,-1.8],[24.7,-2.25],[25.3,-2.6],[25.9,-2.75],[26.5,-2.6],[27.1,-2.15],[27.7,-1.45],[28.2,-0.85]],
 [[24.0,-1.6],[24.6,-2.0],[25.2,-2.35],[25.8,-2.6],[26.4,-2.65],[27.0,-2.45],[27.6,-2.0],[28.2,-1.35],[28.7,-0.8]],
 [[24.6,-1.9],[25.2,-2.15],[25.8,-2.4],[26.4,-2.5],[27.0,-2.4],[27.6,-2.1],[28.2,-1.65],[28.8,-1.1],[29.3,-0.6]],
 [[25.3,-1.85],[25.9,-2.05],[26.5,-2.15],[27.1,-2.1],[27.7,-1.9],[28.3,-1.55],[28.9,-1.1],[29.5,-0.6],[30.0,-0.3]],
 [[26.2,-1.65],[26.8,-1.75],[27.4,-1.75],[28.0,-1.6],[28.6,-1.3],[29.2,-0.9],[29.8,-0.5],[30.4,-0.25],[30.9,-0.15]]];
const aGreenBrakeHigh = [
 [[24.8,-1.9],[25.4,-1.6],[26.0,-1.1],[26.6,-0.6],[27.2,-0.25],[27.8,-0.08],[28.4,-0.02],[29.5,0]],
 [[25.4,-1.85],[26.0,-1.55],[26.6,-1.1],[27.2,-0.65],[27.8,-0.3],[28.4,-0.1],[29.0,-0.03],[30.1,0]],
 [[26.0,-1.7],[26.6,-1.45],[27.2,-1.05],[27.8,-0.65],[28.4,-0.32],[29.0,-0.12],[29.6,-0.04],[30.7,0]],
 [[26.8,-1.5],[27.4,-1.25],[28.0,-0.9],[28.6,-0.55],[29.2,-0.28],[29.8,-0.1],[30.4,-0.03],[31.5,0]],
 [[27.8,-1.1],[28.4,-0.85],[29.0,-0.55],[29.6,-0.3],[30.2,-0.13],[30.8,-0.05],[32.5,0]]];
const aGreenTail = [
 [[30,-0.2],[31.5,-0.1],[34.7,0.0]],
 [[32,-0.1],[34,-0.02],[36.7,0.04]],
 [[34,0.0],[36,0.05],[38.7,0.1]],
 [[35.3,0.03],[37.5,0.08],[40,0.1]]];

// ---------------- styling ----------------
const FONT = "'Liberation Serif','DejaVu Serif',serif";
const AX = '#262626';
const GRIDC = '#b4b4b4';
const GREEN = '#78F0C0';
const BLUE = '#8080EE';
const RED = '#FF0000';
const DOT = [1.5, 5];
const FANW = 1.2;

const gridBoxes = [
  {left:88, top:15, width:868, height:182},
  {left:88, top:266.7, width:868, height:181.6},
  {left:88, top:518.3, width:868, height:182.4}
];

const nameStyle = {
  fontFamily: FONT, fontSize: 30, color: AX, lineHeight: 32,
  rich: {
    it: {fontFamily: FONT, fontSize: 30, fontStyle: 'italic', color: AX, lineHeight: 32},
    sub: {fontFamily: FONT, fontSize: 19, fontStyle: 'italic', color: AX, lineHeight: 15, verticalAlign: 'bottom'},
    sup: {fontFamily: FONT, fontSize: 19, color: AX, lineHeight: 19, verticalAlign: 'top'},
    n: {fontFamily: FONT, fontSize: 30, color: AX, lineHeight: 32}
  }
};

function xAxisCfg(g, withName, margin) {
  const o = {
    type: 'value', gridIndex: g, min: 0, max: 40, interval: 5,
    axisLine: {show: true, onZero: false, lineStyle: {color: AX, width: 1.3}},
    axisTick: {show: true, inside: true, length: 8, lineStyle: {color: AX, width: 1.3}},
    axisLabel: {color: AX, fontFamily: FONT, fontSize: 25, margin: margin, customValues: xTicks},
    splitLine: {show: true, lineStyle: {color: GRIDC, type: DOT, width: 1}},
    minorTick: {show: false, splitNumber: 5},
    minorSplitLine: {show: true, lineStyle: {color: GRIDC, type: DOT, width: 1}}
  };
  if (withName) {
    o.name = '{n|t [s]}';
    o.nameLocation = 'middle';
    o.nameGap = 44;
    o.nameTextStyle = nameStyle;
  }
  return o;
}
function yAxisMain(g, min, max, ticks, name, extra) {
  return Object.assign({
    type: 'value', gridIndex: g, min: min, max: max, position: 'left',
    axisLine: {show: true, onZero: false, lineStyle: {color: AX, width: 1.3}},
    axisTick: {show: true, inside: true, length: 8, lineStyle: {color: AX, width: 1.3}, customValues: ticks},
    axisLabel: {color: AX, fontFamily: FONT, fontSize: 25, margin: 9, customValues: ticks},
    splitLine: {show: false},
    name: name, nameLocation: 'middle', nameRotate: 90, nameGap: 42,
    nameTextStyle: nameStyle
  }, extra || {});
}
function yAxisGrid(g, min, max, split) {
  return {
    type: 'value', gridIndex: g, min: min, max: max, splitNumber: split, position: 'right',
    axisLine: {show: false}, axisTick: {show: false}, axisLabel: {show: false},
    splitLine: {show: true, showMinLine: false, showMaxLine: (g !== 2), lineStyle: {color: GRIDC, type: DOT, width: 1}}
  };
}

const series = [];
function add(lines, color, width, g, extra) {
  lines.forEach(function (pts) {
    series.push(Object.assign({
      type: 'line', xAxisIndex: g, yAxisIndex: g, data: pts,
      symbol: 'none', showSymbol: false, silent: true, smooth: 0.3,
      lineStyle: {color: color, width: width}, emphasis: {disabled: true}, animation: false
    }, extra || {}));
  });
}

// plot 1
add(dFanFlat, GREEN, FANW, 0);
add(dFanRise, GREEN, FANW, 0);
add(dFanCruise, GREEN, FANW, 0);
add(dFanBrake, GREEN, FANW, 0);
add(dFanTail, GREEN, FANW, 0);
add([dMeas], '#000000', 2.7, 0, {smooth: 0.15, lineStyle: {color: '#000', width: 2.7, type: [10, 6]}});

// plot 2
add(vGreenFlat, GREEN, 1.5, 1);
add(vGreenRise, GREEN, FANW, 1);
add(vGreenCruise, GREEN, FANW, 1);
add(vGreenBrake, GREEN, FANW, 1);
add(vBlueRise, BLUE, FANW, 1);
add(vBlueCruise, BLUE, FANW, 1);
add(vBlueBrake, BLUE, FANW, 1);
add([vRef], RED, 5, 1, {smooth: 0.3});
add([vMeas], '#000', 1.4, 1, {smooth: false});

// plot 3
add(aGreenFlat, GREEN, 1.6, 2);
add(aGreenRise, GREEN, FANW, 2);
add(aGreenCruise, GREEN, FANW, 2);
add(aGreenBrakeLow, GREEN, FANW, 2);
add(aGreenBrakeHigh, GREEN, FANW, 2);
add(aGreenTail, GREEN, FANW, 2);
add(aBlueRise, BLUE, FANW, 2);
add(aBlueBrake, BLUE, FANW, 2, {smooth: 0.2});
add([aRef], RED, 5, 2, {smooth: 0.3});
add([aMeas], '#000', 1.4, 2, {smooth: false});

const option = {
  animation: false,
  backgroundColor: '#ffffff',
  grid: gridBoxes,
  xAxis: [xAxisCfg(0, false, 10), xAxisCfg(1, false, 12), xAxisCfg(2, true, 17)],
  yAxis: [
    yAxisMain(0, 6, 16, dTicks, '{it|d}{sub|i}{n| [m]}', {
      interval: 2,
      splitLine: {show: true, lineStyle: {color: GRIDC, type: DOT, width: 1}},
      minorTick: {show: false, splitNumber: 5},
      minorSplitLine: {show: true, lineStyle: {color: GRIDC, type: DOT, width: 1}}
    }),
    yAxisMain(1, -0.1, 11, vTicks, '{it|v}{sub|i}{n| [m/s]}'),
    yAxisMain(2, -3.2, 3.2, aTicks, '{it|a}{sub|i}{n| [m/s}{sup|2}{n|]}'),
    yAxisGrid(1, -0.1, 11, 11),
    yAxisGrid(2, -3.2, 3.2, 13)
  ],
  series: series
};

const chart = echarts.init(document.getElementById('c'), null, {renderer: 'canvas'});
chart.setOption(option);
</script></body></html>
